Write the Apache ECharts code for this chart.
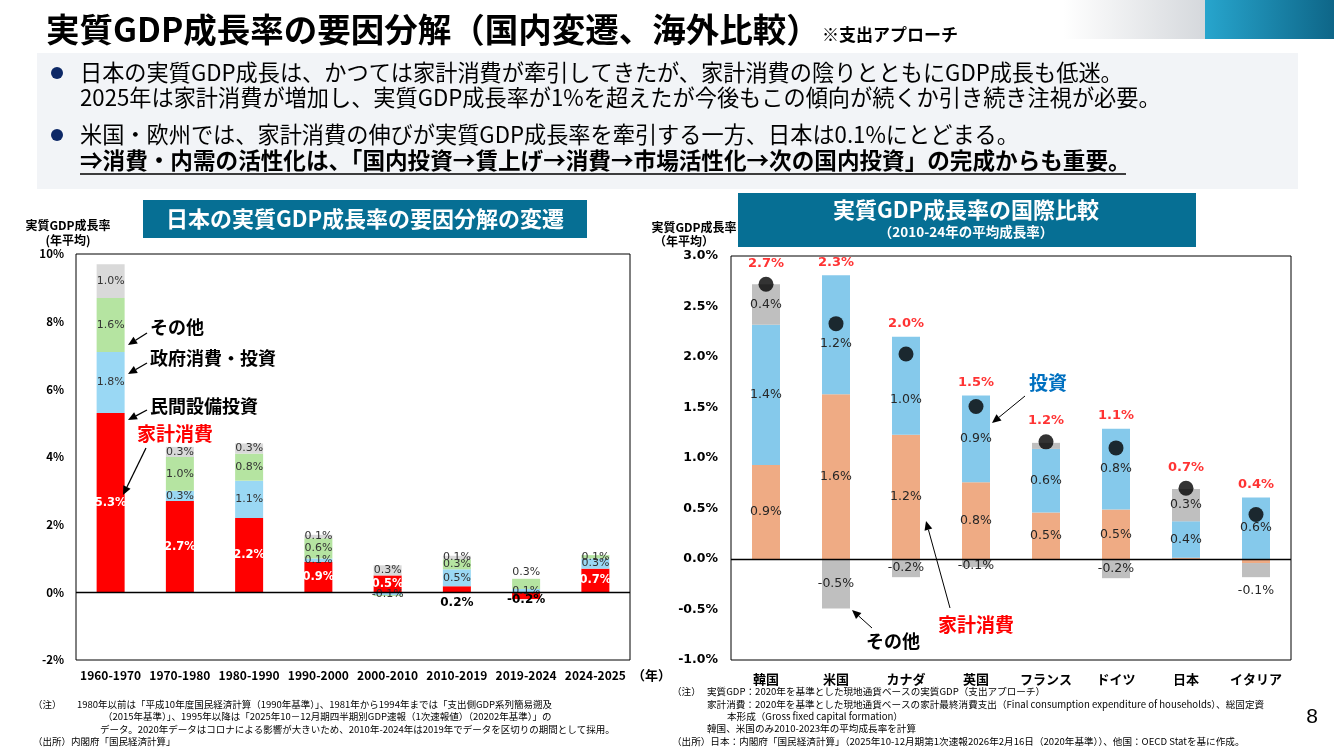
<!DOCTYPE html>
<html><head><meta charset="utf-8">
<script src="https://cdn.jsdelivr.net/npm/echarts@6/dist/echarts.min.js"></script>
<style>html,body{margin:0;padding:0;background:#fff}#c{width:1334px;height:750px}</style>
</head><body><div id="c"></div>
<script>
// ---- Left chart: Japan real GDP growth decomposition (% p.a.) ----
const periods = ['1960-1970','1970-1980','1980-1990','1990-2000','2000-2010','2010-2019','2019-2024','2024-2025'];
const jpHousehold = [5.3, 2.7, 2.2, 0.9, 0.5, 0.18, -0.2, 0.7];
const jpPrivInv   = [1.8, 0.3, 1.1, 0.1, -0.08, 0.5, 0.1, 0.3];
const jpGov       = [1.6, 1.0, 0.8, 0.6, -0.03, 0.3, 0.3, 0.1];
const jpOther     = [1.0, 0.3, 0.3, 0.1, 0.3, 0.1, 0, 0];
const leftTicks   = {min: -2, max: 10, interval: 2};

// ---- Right chart: international comparison 2010-24 ----
const countries = ['韓国','米国','カナダ','英国','フランス','ドイツ','日本','イタリア'];
const ctHousehold = [0.93, 1.63, 1.23, 0.76, 0.46, 0.49, 0.013, -0.04];
const ctInvest    = [1.39, 1.18, 0.97, 0.86, 0.63, 0.80, 0.36, 0.61];
const ctOther     = [0.40, -0.49, -0.18, -0.08, 0.06, -0.19, 0.32, -0.14];
const ctTotal     = [2.72, 2.33, 2.03, 1.51, 1.16, 1.10, 0.70, 0.44];
const rightTicks  = {min: -1, max: 3, interval: 0.5};

const FF = "'Noto Sans CJK JP', sans-serif";
const NF = "'DejaVu Sans', sans-serif";
const pct = v => (v).toFixed(1) + '%';

function items(vals, base, overrides) {
  return vals.map((v, i) => {
    const lab = Object.assign({show: Math.abs(v) >= 0.05}, base || {}, (overrides && overrides[i]) || {});
    return {value: v, label: lab};
  });
}

const redLab = {color:'#fff', fontWeight:'bold', fontSize:11.5, fontFamily:NF};
const grayLab = {color:'#333', fontSize:11, fontFamily:NF};
const boldBelow = {position:'bottom', color:'#000', fontWeight:'bold', fontSize:12, fontFamily:NF};
const rLab = {color:'#262626', fontSize:12.5, fontFamily:NF};

// red total labels sit above the bar top or above the dot, whichever is higher
const positiveSum = ctHousehold.map((v,i)=>[v, ctInvest[i], ctOther[i]].filter(x=>x>0).reduce((a,b)=>a+b,0));
const redAnchor = positiveSum.map((s,i)=>Math.max(s, ctTotal[i] + 0.08));

function arrow(x1,y1,x2,y2,color,w){
  const a=Math.atan2(y2-y1,x2-x1), L=9, H=4;
  const bx=x2-L*Math.cos(a), by=y2-L*Math.sin(a);
  const px=-Math.sin(a)*H, py=Math.cos(a)*H;
  return [
    {type:'line', shape:{x1:x1,y1:y1,x2:bx,y2:by}, style:{stroke:color, lineWidth:w||1.3}, z:100},
    {type:'polygon', shape:{points:[[x2,y2],[bx+px,by+py],[bx-px,by-py]]}, style:{fill:color}, z:100}
  ];
}
function txt(text, x, y, size, opts) {
  opts = opts || {};
  return {type:'text', z:100, style:Object.assign({
    text:text, x:x, y:y, fill:opts.fill||'#000',
    font:(opts.weight||'normal')+' '+size+'px '+(opts.family||FF),
    textAlign:opts.align||'left', align:opts.align||'left',
    textVerticalAlign:'middle', verticalAlign:'middle'
  }, opts.extra||{})};
}

const graphics = [
  {type:'rect', shape:{x:1063,y:0,width:142,height:39}, style:{fill:new echarts.graphic.LinearGradient(0,0,1,0,[{offset:0,color:'#ffffff'},{offset:1,color:'#d5d8dc'}])}},
  {type:'rect', shape:{x:1205,y:0,width:129,height:39}, style:{fill:new echarts.graphic.LinearGradient(0,0,1,0,[{offset:0,color:'#27a5cd'},{offset:1,color:'#0e6688'}])}},
  txt('実質GDP成長率の要因分解（国内変遷、海外比較）', 46, 29, 33.5, {weight:'bold'}),
  txt('※支出アプローチ', 822, 35, 17, {weight:'bold'}),
  {type:'rect', shape:{x:37,y:53,width:1261,height:136}, style:{fill:'#f2f4f7'}},
  {type:'circle', shape:{cx:57,cy:73,r:6}, style:{fill:'#0d2866'}},
  {type:'circle', shape:{cx:57,cy:135,r:6}, style:{fill:'#0d2866'}},
  txt('日本の実質GDP成長は、かつては家計消費が牽引してきたが、家計消費の陰りとともにGDP成長も低迷。', 80, 73, 22.2),
  txt('2025年は家計消費が増加し、実質GDP成長率が1%を超えたが今後もこの傾向が続くか引き続き注視が必要。', 80, 98, 22.2),
  txt('米国・欧州では、家計消費の伸びが実質GDP成長率を牽引する一方、日本は0.1%にとどまる。', 80, 135, 22.2),
  txt('⇒消費・内需の活性化は、「国内投資→賃上げ→消費→市場活性化→次の国内投資」の完成からも重要。', 80, 160, 22.6, {weight:'bold'}),
  {type:'line', shape:{x1:80,y1:174,x2:1126,y2:174}, style:{stroke:'#000', lineWidth:1.5}},
  // left chart header
  {type:'rect', shape:{x:143,y:200,width:444,height:38}, style:{fill:'#066f94'}},
  txt('日本の実質GDP成長率の要因分解の変遷', 365, 219, 22, {weight:'bold', fill:'#fff', align:'center'}),
  txt('実質GDP成長率', 68, 225, 12, {weight:'bold', align:'center'}),
  txt('(年平均)', 68, 240, 12, {weight:'bold', align:'center'}),
  txt('（年）', 632, 675, 13, {weight:'bold'}),
  // right chart header
  {type:'rect', shape:{x:738,y:193,width:458,height:54}, style:{fill:'#066f94'}},
  txt('実質GDP成長率の国際比較', 966, 210, 22, {weight:'bold', fill:'#fff', align:'center'}),
  txt('（2010-24年の平均成長率）', 966, 232, 13.5, {weight:'bold', fill:'#fff', align:'center'}),
  txt('実質GDP成長率', 694, 227, 12, {weight:'bold', align:'center'}),
  txt('（年平均）', 684, 241, 12, {weight:'bold', align:'center'}),
  // left annotations
  txt('その他', 150, 327, 18, {weight:'bold'}),
  txt('政府消費・投資', 150, 358, 18, {weight:'bold'}),
  txt('民間設備投資', 150, 406, 18, {weight:'bold'}),
  txt('家計消費', 137, 434, 19, {weight:'bold', fill:'#ff0000'}),
  ...arrow(147,333,128,345,'#000'),
  ...arrow(147,363,128,374,'#000'),
  ...arrow(147,410,128,420,'#000'),
  ...arrow(146,448,123,495,'#000'),
  // right annotations
  txt('投資', 1029, 383, 19, {weight:'bold', fill:'#0070c0'}),
  txt('家計消費', 938, 625, 19, {weight:'bold', fill:'#ff0000'}),
  txt('その他', 866, 641, 18, {weight:'bold'}),
  ...arrow(1025,396,992,423,'#000',1),
  ...arrow(950,608,926,521,'#000',1),
  ...arrow(872,628,852,610,'#000',1),
  // notes
  txt('（注）', 33, 704, 9.5),
  txt('1980年以前は「平成10年度国民経済計算（1990年基準）」、1981年から1994年までは「支出側GDP系列簡易遡及', 77, 704, 9.5),
  txt('（2015年基準）」、1995年以降は「2025年10－12月期四半期別GDP速報（1次速報値）（20202年基準）」の', 103, 716, 9.5),
  txt('データ。2020年データはコロナによる影響が大きいため、2010年-2024年は2019年でデータを区切りの期間として採用。', 100, 729, 9.5),
  txt('（出所）内閣府「国民経済計算」', 33, 741, 9.5),
  txt('（注）', 672, 691, 9.6),
  txt('実質GDP：2020年を基準とした現地通貨ベースの実質GDP（支出アプローチ）', 707, 691, 9.6),
  txt('家計消費：2020年を基準とした現地通貨ベースの家計最終消費支出（Final consumption expenditure of households）、総固定資', 707, 704, 9.6),
  txt('本形成（Gross fixed capital formation）', 727, 716, 9.6),
  txt('韓国、米国のみ2010-2023年の平均成長率を計算', 707, 728, 9.6),
  txt('（出所）日本：内閣府「国民経済計算」（2025年10-12月期第1次速報2026年2月16日（2020年基準））、他国：OECD Statを基に作成。', 672, 741, 9.6),
  txt('8', 1312, 717, 21, {align:'center', family:"'Liberation Sans', sans-serif"})
];

const zeroLine = {silent:true, symbol:['none','none'], label:{show:false}, lineStyle:{color:'#000', width:1.3, type:'solid'}, data:[{yAxis:0}]};
const axisLab = {color:'#000', fontWeight:'bold', fontFamily:FF};

const option = {
  animation:false,
  backgroundColor:'#fff',
  graphic: graphics,
  grid:[
    {left:76, top:254, width:554, height:406, show:true, borderColor:'#000', borderWidth:1},
    {left:731, top:256, width:560, height:404, show:true, borderColor:'#000', borderWidth:1}
  ],
  xAxis:[
    {gridIndex:0, type:'category', data:periods, axisLine:{show:false}, axisTick:{show:false}, axisLabel:Object.assign({fontSize:12, margin:9, interval:0}, axisLab)},
    {gridIndex:1, type:'category', data:countries, axisLine:{show:false}, axisTick:{show:false}, axisLabel:Object.assign({fontSize:13, margin:13, interval:0}, axisLab)}
  ],
  yAxis:[
    {gridIndex:0, type:'value', min:leftTicks.min, max:leftTicks.max, interval:leftTicks.interval, splitLine:{show:false}, axisLine:{show:false}, axisTick:{show:false}, axisLabel:Object.assign({fontSize:11.5, margin:12, formatter:'{value}%'}, axisLab)},
    {gridIndex:1, type:'value', min:rightTicks.min, max:rightTicks.max, interval:rightTicks.interval, splitLine:{show:false}, axisLine:{show:false}, axisTick:{show:false}, axisLabel:{color:'#000', fontWeight:'bold', fontFamily:NF, fontSize:12.5, margin:13, formatter:v=>v.toFixed(1)+'%'}}
  ],
  series:[
    {name:'家計消費', type:'bar', stack:'L', xAxisIndex:0, yAxisIndex:0, barWidth:28, itemStyle:{color:'#ff0000'},
      label:{position:'inside', formatter:p=>pct(p.value)},
      data:items(jpHousehold, redLab, {5:boldBelow, 6:Object.assign({}, boldBelow, {distance:-5})})},
    {name:'民間設備投資', type:'bar', stack:'L', xAxisIndex:0, yAxisIndex:0, barWidth:28, itemStyle:{color:'#9ad8f4'},
      label:{position:'inside', formatter:p=>pct(p.value)}, data:items(jpPrivInv, grayLab)},
    {name:'政府消費・投資', type:'bar', stack:'L', xAxisIndex:0, yAxisIndex:0, barWidth:28, itemStyle:{color:'#b5e4a1'},
      label:{position:'inside', formatter:p=>pct(p.value)}, data:items(jpGov, grayLab, {6:{position:'top', distance:1}})},
    {name:'その他', type:'bar', stack:'L', xAxisIndex:0, yAxisIndex:0, barWidth:28, itemStyle:{color:'#d9d9d9'},
      label:{position:'inside', formatter:p=>pct(p.value)}, data:items(jpOther, grayLab), markLine:zeroLine, z:3},

    {name:'家計消費R', type:'bar', stack:'R', xAxisIndex:1, yAxisIndex:1, barWidth:28, itemStyle:{color:'#efab84'},
      label:{position:'inside', formatter:p=>pct(p.value)},
      data:items(ctHousehold, rLab, {6:{show:false}, 7:{show:false}})},
    {name:'投資R', type:'bar', stack:'R', xAxisIndex:1, yAxisIndex:1, barWidth:28, itemStyle:{color:'#85c9eb'},
      label:{position:'inside', formatter:p=>pct(p.value)},
      data:items(ctInvest, rLab, {1:{offset:[0,9]}, 2:{offset:[0,14]}})},
    {name:'その他R', type:'bar', stack:'R', xAxisIndex:1, yAxisIndex:1, barWidth:28, itemStyle:{color:'#bfbfbf'},
      label:{position:'inside', formatter:p=>pct(p.value)},
      data:items(ctOther, rLab, {4:{show:false}, 3:{show:true, offset:[0,3]}, 7:{position:'bottom', distance:7}}),
      markLine:zeroLine, z:3},
    {name:'実質GDP', type:'scatter', xAxisIndex:1, yAxisIndex:1, symbolSize:15, itemStyle:{color:'#000'}, z:5, data:ctTotal},
    {name:'label', type:'scatter', xAxisIndex:1, yAxisIndex:1, symbolSize:1, itemStyle:{color:'transparent'}, z:6, silent:true,
      label:{show:true, position:'top', distance:6, color:'#ff0000', fontWeight:'bold', fontSize:13, fontFamily:NF,
        formatter:p=>pct(ctTotal[p.dataIndex])},
      data:redAnchor}
  ]
};
const chart = echarts.init(document.getElementById('c'), null, {renderer:'canvas'});
chart.setOption(option);
</script></body></html>
